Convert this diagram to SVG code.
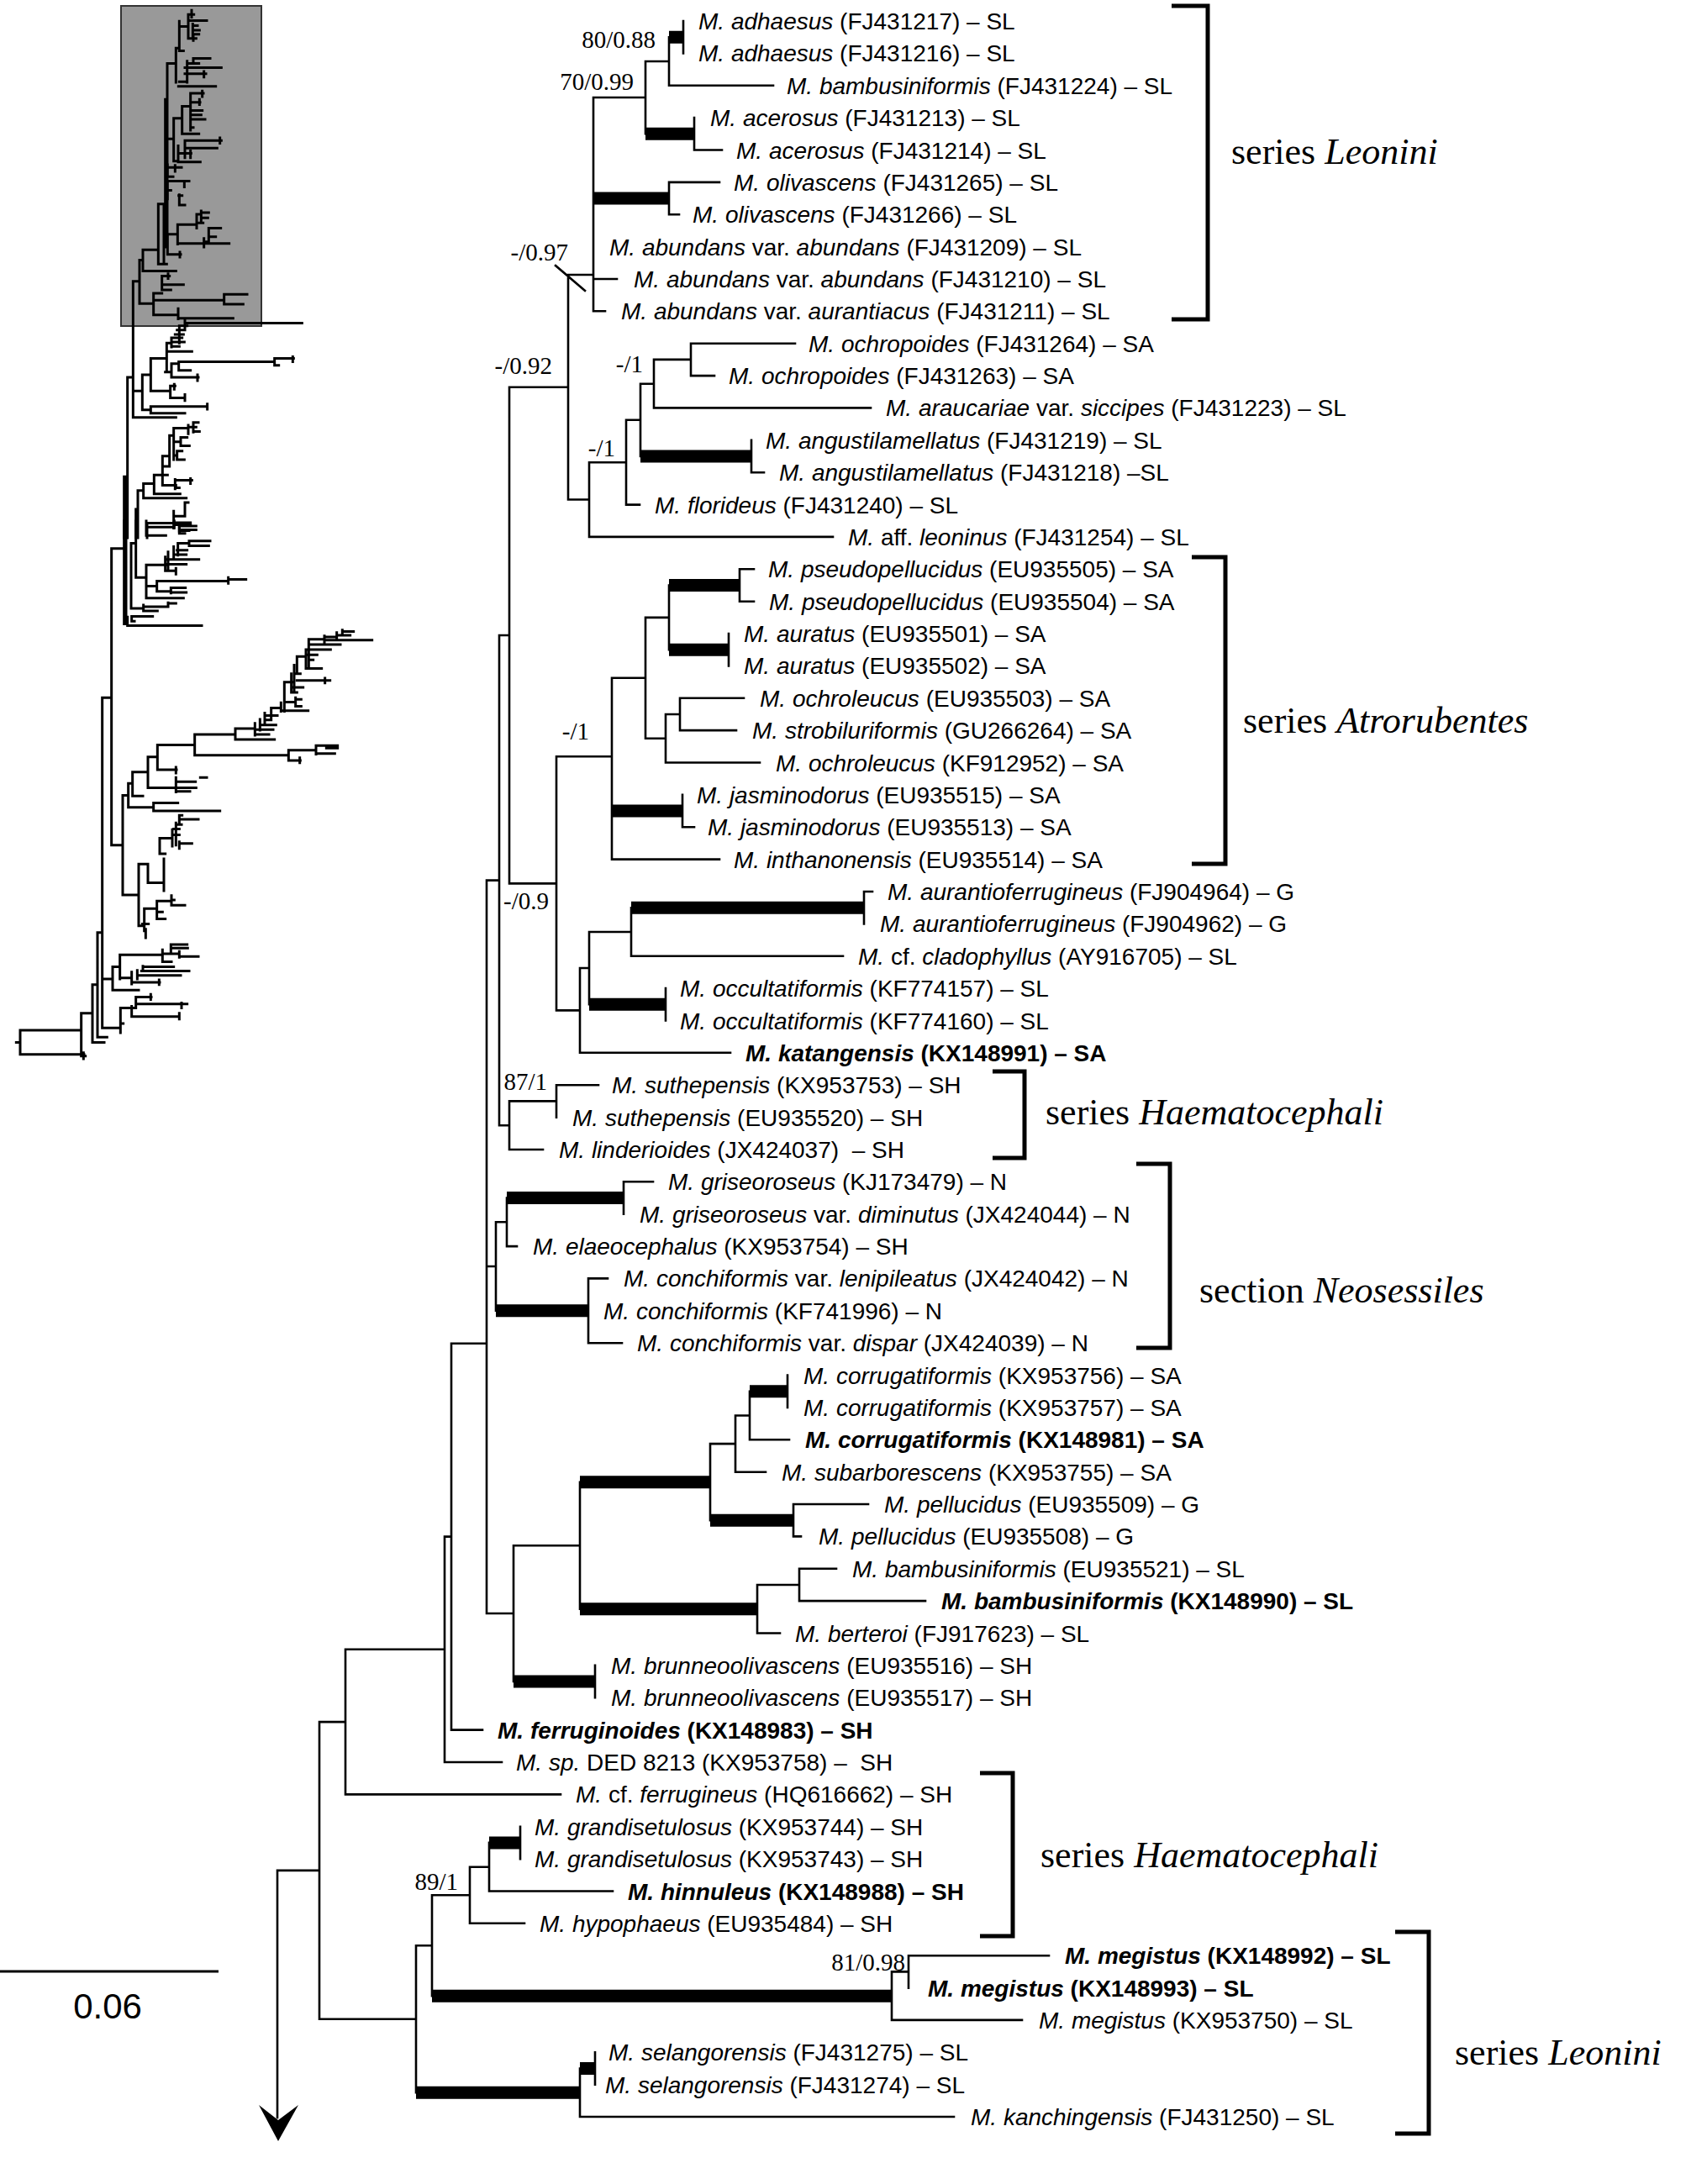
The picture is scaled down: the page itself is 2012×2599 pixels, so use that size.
<svg xmlns="http://www.w3.org/2000/svg" width="2012" height="2599" viewBox="0 0 2012 2599">
<style>
.br{fill:none;stroke:#000;stroke-width:2.6;stroke-linecap:square}
.tk{fill:none;stroke:#000;stroke-width:15;stroke-linecap:butt}
.ins{fill:none;stroke:#000;stroke-width:3;stroke-linecap:square;vector-effect:non-scaling-stroke}
.brk{fill:none;stroke:#000;stroke-width:5;stroke-linejoin:miter}
.lf{font-family:"Liberation Sans",Arial,sans-serif;font-size:28px;fill:#000}
.i{font-style:italic}
.b{font-weight:bold}
.sp{font-family:"Liberation Serif","Times New Roman",serif;font-size:29px;fill:#000;text-anchor:end}
.gl{font-family:"Liberation Serif","Times New Roman",serif;font-size:44px;fill:#000}
.sc{font-family:"Liberation Sans",Arial,sans-serif;font-size:42px;fill:#000;text-anchor:middle}
</style>
<rect width="2012" height="2599" fill="#fff"/>

<g id="overview-tree">
<rect x="144" y="7" width="167" height="381" fill="#999" stroke="#333" stroke-width="2"/>
<path class="ins" transform="matrix(0.33333 0 0 0.40816 0 0)" d="M684 30V50 M672 42H692 M672 42V112 M672 60H738 M688 70V105 M688 75H705 M688 88H712 M688 100H710 M672 112H700 M690 106V118 M640 62V148 M640 77H672 M640 148H655 M628 140V240 M628 140H640 M668 178V240 M690 170V185 M690 170H750 M668 185H710 M660 197H790 M660 215H735 M728 208V225 M640 238H668 M637 252H770 M597 185V720 M597 185H628
M680 272V380 M680 272H726 M722 265V282 M680 298H714 M712 290V305 M680 322H722 M680 335H718 M680 348H732 M680 372H690 M650 390H710 M650 310V390 M650 310H680 M620 345V470 M620 345H650 M660 410V460 M660 410H790 M785 402V418 M660 432H775 M636 425V472 M636 447H682 M680 440V460 M636 472H715 M620 470H636 M590 290V720 M590 405H620
M600 488H648 M625 482V500 M598 480V515 M598 515H618 M600 528H675 M658 528V545 M598 528V580 M598 555H610 M638 570H650 M640 568V598 M640 598H660 M585 595V770 M634 655V712 M634 655H700 M702 625V665 M702 625H718 M718 615V650 M718 620H745 M718 635H742 M702 650H725 M745 665H788 M745 690H770 M745 665V705 M728 705H745 M728 695V720 M634 710H818 M598 683V742 M598 683H634 M598 742H645 M642 735V750 M565 770H595 M565 595V770 M565 595H585 M510 790H628 M510 728V790 M510 728H565
M578 805V845 M578 805H605 M600 798V812 M578 830H655 M578 845H610 M548 855V918 M548 855H578 M800 858H882 M800 887H868 M800 860V887 M555 875H800 M548 918H635 M636 900V930 M636 928H832 M498 758V885 M498 758H510 M498 885H548 M475 820V1217 M475 820H498
M660 942H1078 M660 935V955 M640 950V1000 M640 950H668 M632 962H660 M625 975H655 M620 985H650 M612 997H658 M612 1010H640 M612 985V1012 M595 1025H685 M595 1000V1085 M595 1000H612 M638 1055H980 M638 1055V1080 M980 1045V1065 M980 1045H1048 M1045 1040V1055 M980 1065H995 M612 1060V1100 M612 1060H638 M638 1080H680 M612 1100H708 M705 1093V1110 M590 1085H612 M538 1045V1140 M538 1045H595 M608 1125V1160 M608 1125H625 M622 1120V1135 M608 1160H660 M660 1150V1168 M538 1140H608 M508 1093V1195 M508 1093H538 M538 1185H740 M740 1178V1193 M538 1205H660 M538 1185V1205 M508 1195H538 M475 1140H508 M475 1217H628 M455 1100V1568 M455 1100H475
M690 1232V1260 M690 1232H708 M672 1245H700 M690 1258H712 M672 1240V1265 M620 1248V1340 M620 1248H672 M645 1275V1300 M645 1275H668 M645 1300H676 M620 1288H645 M632 1315V1340 M632 1315H650 M632 1340H658 M620 1328H632 M605 1270V1360 M605 1270H620 M585 1360H600 M580 1330V1415 M580 1330H605 M580 1385H598 M580 1415H628 M625 1398V1425 M625 1400H685 M680 1395V1410 M625 1422H640 M550 1385V1440 M550 1385H580 M550 1440H643 M512 1410V1452 M512 1410H550 M512 1452H665 M492 1430V1568 M492 1430H512 M660 1465V1505 M660 1465H672 M620 1490V1540 M620 1505H660 M620 1530H680 M640 1525V1555 M640 1545H700 M640 1555H660 M525 1525V1568 M525 1525H620 M485 1485V1568 M443 1390V1568 M450 1390V1568 M443 1390H455"/>
<path class="ins" transform="matrix(0.33333 0 0 0.40816 0 620)" d="M443 0V300 M450 0V300 M398 80H443 M398 80V945 M485 0V165 M468 65V255 M468 65H485 M622 0V20 M620 5H680 M640 10V30 M640 15H700 M640 28H675 M522 0V42 M522 18H620 M522 42H592 M675 58V72 M675 58H750 M675 72H745 M635 65H675 M635 65V100 M632 85H668 M620 98H665 M620 75V110 M598 112H710 M600 90V145 M590 126H665 M590 145H625 M628 138V155 M590 105V145 M522 128H598 M522 128V225 M815 165V182 M815 170H878 M560 175H815 M560 175V205 M610 195H662 M610 208H665 M610 195V210 M560 205H610 M522 190H560 M522 225H655 M485 165H522 M600 240H628 M600 238V250 M512 250H600 M512 262H562 M512 245V262 M468 255H512 M470 278H545 M470 278V292 M470 292H480 M455 305H720 M455 280V305 M445 290H455
M1222 322H1262 M1202 333H1250 M1222 318V333 M1202 325V345 M1158 347H1328 M1158 335V360 M1158 338H1202 M1102 360H1215 M1102 345V430 M1102 345H1158 M1092 375H1180 M1092 390H1132 M1092 375V430 M1102 405H1118 M1092 430H1148 M1060 395V445 M1060 395H1092 M1050 445H1072 M1050 420V500 M1060 465H1178 M1160 458V472 M1040 485H1082 M1040 445V500 M1040 500H1060 M1015 470V555 M1015 470H1050 M1055 520H1075 M1055 540H1075 M1055 515V540 M1015 528H1055 M1003 553H1100 M1003 530V555 M968 545V580 M968 545H1003 M945 567H990 M945 560V595 M945 580H968 M928 595H985 M928 578V610 M910 608H975 M910 590V625 M910 622H960 M840 637H980 M840 605V637 M840 605H910 M695 622H840 M695 622V683 M695 683H1030 M1030 668V698 M1030 668H1128 M1128 655V680 M1128 655H1205 M1165 662H1205 M1128 678H1195 M1030 698H1072 M1070 690V705 M562 653H695 M562 653V725 M562 725H630 M628 718V735 M528 688V778 M528 688H562 M528 778H700 M628 760H698 M628 748V790 M715 748H738 M628 788H678 M473 732V802 M473 732H528 M473 802H510 M458 765V835 M458 765H473 M548 822H635 M548 822V845 M548 845H785 M458 835H548 M438 800V1090 M438 800H458
M640 858H650 M640 858V885 M640 870H708 M630 885H648 M628 880V945 M620 898H640 M620 915H640 M640 940H685 M640 935V955 M615 900V948 M570 925H615 M570 925V970 M570 970H590 M528 1000V1055 M495 1000H528 M528 1055H585 M585 985V1078 M438 1090H495 M495 1000V1180 M612 1105H622 M612 1092V1120 M612 1120H660 M560 1108V1160 M560 1108H612 M565 1140H580 M560 1160H590 M515 1130V1195 M515 1130H560 M508 1175H530 M520 1190V1215 M495 1180H515 M398 945H438
M365 515V1478 M365 515H398 M610 1245H670 M610 1235V1262 M610 1235H668 M640 1270H708 M640 1255V1272 M580 1262H640 M580 1250V1285 M580 1285H612 M428 1265H580 M510 1300H620 M505 1312H675 M490 1325H645 M510 1298V1310 M490 1310V1335 M470 1345H570 M568 1338V1352 M470 1315V1350 M428 1332H470 M428 1265V1335 M402 1300H428 M402 1368H495 M402 1300V1368 M370 1335H402 M485 1388H540 M538 1380V1395 M485 1388V1415 M485 1408H668 M648 1405V1420 M470 1420H485 M470 1445H640 M640 1435V1452 M470 1415V1445 M430 1420H470 M430 1420V1492 M430 1465H440 M365 1478H430 M348 1200V1505 M348 1200H365 M348 1505H382 M330 1352V1520 M330 1352H348 M330 1520H372 M290 1435V1560 M290 1435H330 M290 1560H305 M298 1550V1568 M72 1485V1555 M72 1485H290 M72 1555H300 M58 1520H72"/>
</g>

<g id="scale-bar">
<path d="M0 2346H260" stroke="#000" stroke-width="3" fill="none"/>
<text class="sc" x="128" y="2402">0.06</text>
</g>

<g id="connectors">
<path class="br" d="M813 25V63.4 M796 44.2V101.7 M796 101.7H920 M768 73H796 M768 73V159.3 M826 140.1V178.5 M826 178.5H859 M706 116H768 M796 216.9V255.2 M796 216.9H856 M796 255.2H808 M706 116V370.3 M706 332H734 M706 370.3H720 M676 327H706 M676 327V594.5 M606 460.8H676 M676 594.5H701 M701 550.2V638.9 M701 638.9H991 M701 550.2H745 M745 499.8V600.6 M745 600.6H761 M745 499.8H762 M762 456.7V543 M894 523.8V562.2 M894 562.2H909 M762 456.7H778 M778 427.9V485.4 M778 485.4H1036 M778 427.9H822 M822 408.7V447.1 M822 408.7H946 M822 447.1H850
M606 460.8V1051.4 M594 756H606 M606 1051.4H662 M662 900.3V1202.4 M662 900.3H728 M728 806.8V1022.6 M728 806.8H768 M768 734.9V878.7 M768 734.9H796 M796 696.5V773.2 M880 677.3V715.7 M880 677.3H897 M880 715.7H897 M867 754V792.4 M768 878.7H792 M792 850V907.5 M792 907.5H904 M792 850H809 M809 830.8V869.1 M809 830.8H885 M809 869.1H876 M812 945.9V984.3 M812 984.3H826 M728 1022.6H856 M662 1202.4H690 M690 1152V1252.8 M690 1252.8H869 M690 1152H701 M701 1109V1195.3 M792 1176.1V1214.5 M701 1109H751 M751 1080.2V1137.7 M751 1137.7H1003 M1028 1061V1099.4 M1028 1061H1038
M594 756V1339.2 M579 1047.6H594 M594 1339.2H606 M606 1310.4V1368 M606 1368H646 M606 1310.4H662 M662 1291.2V1329.6 M662 1291.2H712
M579 1047.6V1920 M579 1507H590 M590 1454.3V1559.8 M590 1454.3H603 M603 1425.5V1483.1 M603 1483.1H615 M742 1406.3V1444.7 M742 1406.3H777 M700 1521.4V1598.2 M700 1521.4H723 M700 1598.2H740
M579 1920H611 M611 1839.2V2001 M611 1839.2H690 M708 1981.9V2020.2 M690 1763.7V1914.7 M845 1718.1V1809.2 M845 1718.1H875 M944 1790V1828.4 M944 1790H1033 M944 1828.4H953 M875 1684.5V1751.7 M875 1751.7H911 M875 1684.5H892 M892 1655.7V1713.3 M892 1713.3H939 M937 1636.5V1674.9 M901 1886V1943.5 M901 1943.5H928 M901 1886H951 M951 1866.8V1905.1 M951 1866.8H995 M951 1905.1H1101
M537 1598.7V2058.6 M537 1598.7H579 M537 2058.6H574 M529 1828.6V2097 M529 1828.6H537 M529 2097H597 M411 1962.8V2135.4 M411 1962.8H529 M411 2135.4H667 M380 2049.1V2402.7 M380 2049.1H411 M380 2402.7H495 M330 2225.9H380 M330 2225.9V2520 M495 2315.2V2490.3 M495 2315.2H514 M514 2255.3V2375.2 M514 2255.3H559 M559 2221.7V2288.8 M559 2288.8H624 M559 2221.7H582 M582 2192.9V2250.5 M582 2250.5H729 M619 2173.7V2212.1 M1061 2346.4V2403.9 M1061 2346.4H1081 M1061 2403.9H1216 M1081 2327.2V2365.6 M1081 2327.2H1248 M690 2461.5V2519 M690 2519H1135 M708 2442.3V2480.7
M661 316L696 346"/>
<path class="tk" d="M796 44.2H813 M768 159.3H826 M706 236H796 M762 543H894 M796 696.5H880 M796 773.2H867 M728 965.1H812 M701 1195.3H792 M751 1080.2H1028 M603 1425.5H742 M590 1559.8H700 M611 2001H708 M690 1763.7H845 M690 1914.7H901 M845 1809.2H944 M892 1655.7H937 M582 2192.9H619 M514 2375.2H1061 M495 2490.3H690 M690 2461.5H708"/>
<polygon points="308,2505 331,2523 355,2505 331,2548" fill="#000"/>
</g>

<g id="support-values">
<text class="sp" x="780" y="57">80/0.88</text>
<text class="sp" x="754" y="107">70/0.99</text>
<text class="sp" x="676" y="310">-/0.97</text>
<text class="sp" x="657" y="445">-/0.92</text>
<text class="sp" x="765" y="443">-/1</text>
<text class="sp" x="732" y="543">-/1</text>
<text class="sp" x="701" y="880">-/1</text>
<text class="sp" x="653" y="1082">-/0.9</text>
<text class="sp" x="651" y="1297">87/1</text>
<text class="sp" x="545" y="2249">89/1</text>
<text class="sp" x="1077" y="2345">81/0.98</text>
</g>

<g id="leaves" class="lf">
<g id="leaf01"><text x="831" y="35"><tspan class="i">M. adhaesus</tspan> (FJ431217) – SL</text></g>
<g id="leaf02"><text x="831" y="73"><tspan class="i">M. adhaesus</tspan> (FJ431216) – SL</text></g>
<g id="leaf03"><text x="936" y="112"><tspan class="i">M. bambusiniformis</tspan> (FJ431224) – SL</text></g>
<g id="leaf04"><text x="845" y="150"><tspan class="i">M. acerosus</tspan> (FJ431213) – SL</text></g>
<g id="leaf05"><text x="876" y="189"><tspan class="i">M. acerosus</tspan> (FJ431214) – SL</text></g>
<g id="leaf06"><text x="873" y="227"><tspan class="i">M. olivascens</tspan> (FJ431265) – SL</text></g>
<g id="leaf07"><text x="824" y="265"><tspan class="i">M. olivascens</tspan> (FJ431266) – SL</text></g>
<g id="leaf08"><text x="725" y="304"><tspan class="i">M. abundans</tspan> var. <tspan class="i">abundans</tspan> (FJ431209) – SL</text></g>
<g id="leaf09"><text x="754" y="342"><tspan class="i">M. abundans</tspan> var. <tspan class="i">abundans</tspan> (FJ431210) – SL</text></g>
<g id="leaf10"><text x="739" y="380"><tspan class="i">M. abundans</tspan> var. <tspan class="i">aurantiacus</tspan> (FJ431211) – SL</text></g>
<g id="leaf11"><text x="962" y="419"><tspan class="i">M. ochropoides</tspan> (FJ431264) – SA</text></g>
<g id="leaf12"><text x="867" y="457"><tspan class="i">M. ochropoides</tspan> (FJ431263) – SA</text></g>
<g id="leaf13"><text x="1054" y="495"><tspan class="i">M. araucariae</tspan> var. <tspan class="i">siccipes</tspan> (FJ431223) – SL</text></g>
<g id="leaf14"><text x="911" y="534"><tspan class="i">M. angustilamellatus</tspan> (FJ431219) – SL</text></g>
<g id="leaf15"><text x="927" y="572"><tspan class="i">M. angustilamellatus</tspan> (FJ431218) –SL</text></g>
<g id="leaf16"><text x="779" y="611"><tspan class="i">M. florideus</tspan> (FJ431240) – SL</text></g>
<g id="leaf17"><text x="1009" y="649"><tspan class="i">M.</tspan> aff. <tspan class="i">leoninus</tspan> (FJ431254) – SL</text></g>
<g id="leaf18"><text x="914" y="687"><tspan class="i">M. pseudopellucidus</tspan> (EU935505) – SA</text></g>
<g id="leaf19"><text x="915" y="726"><tspan class="i">M. pseudopellucidus</tspan> (EU935504) – SA</text></g>
<g id="leaf20"><text x="885" y="764"><tspan class="i">M. auratus</tspan> (EU935501) – SA</text></g>
<g id="leaf21"><text x="885" y="802"><tspan class="i">M. auratus</tspan> (EU935502) – SA</text></g>
<g id="leaf22"><text x="904" y="841"><tspan class="i">M. ochroleucus</tspan> (EU935503) – SA</text></g>
<g id="leaf23"><text x="895" y="879"><tspan class="i">M. strobiluriformis</tspan> (GU266264) – SA</text></g>
<g id="leaf24"><text x="923" y="918"><tspan class="i">M. ochroleucus</tspan> (KF912952) – SA</text></g>
<g id="leaf25"><text x="829" y="956"><tspan class="i">M. jasminodorus</tspan> (EU935515) – SA</text></g>
<g id="leaf26"><text x="842" y="994"><tspan class="i">M. jasminodorus</tspan> (EU935513) – SA</text></g>
<g id="leaf27"><text x="873" y="1033"><tspan class="i">M. inthanonensis</tspan> (EU935514) – SA</text></g>
<g id="leaf28"><text x="1056" y="1071"><tspan class="i">M. aurantioferrugineus</tspan> (FJ904964) – G</text></g>
<g id="leaf29"><text x="1047" y="1109"><tspan class="i">M. aurantioferrugineus</tspan> (FJ904962) – G</text></g>
<g id="leaf30"><text x="1021" y="1148"><tspan class="i">M.</tspan> cf. <tspan class="i">cladophyllus</tspan> (AY916705) – SL</text></g>
<g id="leaf31"><text x="809" y="1186"><tspan class="i">M. occultatiformis</tspan> (KF774157) – SL</text></g>
<g id="leaf32"><text x="809" y="1225"><tspan class="i">M. occultatiformis</tspan> (KF774160) – SL</text></g>
<g id="leaf33"><text class="b" x="887" y="1263"><tspan class="i">M. katangensis</tspan> (KX148991) – SA</text></g>
<g id="leaf34"><text x="728" y="1301"><tspan class="i">M. suthepensis</tspan> (KX953753) – SH</text></g>
<g id="leaf35"><text x="681" y="1340"><tspan class="i">M. suthepensis</tspan> (EU935520) – SH</text></g>
<g id="leaf36"><text x="665" y="1378" xml:space="preserve"><tspan class="i">M. linderioides</tspan> (JX424037)  – SH</text></g>
<g id="leaf37"><text x="795" y="1416"><tspan class="i">M. griseoroseus</tspan> (KJ173479) – N</text></g>
<g id="leaf38"><text x="761" y="1455"><tspan class="i">M. griseoroseus</tspan> var. <tspan class="i">diminutus</tspan> (JX424044) – N</text></g>
<g id="leaf39"><text x="634" y="1493"><tspan class="i">M. elaeocephalus</tspan> (KX953754) – SH</text></g>
<g id="leaf40"><text x="742" y="1531"><tspan class="i">M. conchiformis</tspan> var. <tspan class="i">lenipileatus</tspan> (JX424042) – N</text></g>
<g id="leaf41"><text x="718" y="1570"><tspan class="i">M. conchiformis</tspan> (KF741996) – N</text></g>
<g id="leaf42"><text x="758" y="1608"><tspan class="i">M. conchiformis</tspan> var. <tspan class="i">dispar</tspan> (JX424039) – N</text></g>
<g id="leaf43"><text x="956" y="1647"><tspan class="i">M. corrugatiformis</tspan> (KX953756) – SA</text></g>
<g id="leaf44"><text x="956" y="1685"><tspan class="i">M. corrugatiformis</tspan> (KX953757) – SA</text></g>
<g id="leaf45"><text class="b" x="958" y="1723"><tspan class="i">M. corrugatiformis</tspan> (KX148981) – SA</text></g>
<g id="leaf46"><text x="930" y="1762"><tspan class="i">M. subarborescens</tspan> (KX953755) – SA</text></g>
<g id="leaf47"><text x="1052" y="1800"><tspan class="i">M. pellucidus</tspan> (EU935509) – G</text></g>
<g id="leaf48"><text x="974" y="1838"><tspan class="i">M. pellucidus</tspan> (EU935508) – G</text></g>
<g id="leaf49"><text x="1014" y="1877"><tspan class="i">M. bambusiniformis</tspan> (EU935521) – SL</text></g>
<g id="leaf50"><text class="b" x="1120" y="1915"><tspan class="i">M. bambusiniformis</tspan> (KX148990) – SL</text></g>
<g id="leaf51"><text x="946" y="1954"><tspan class="i">M. berteroi</tspan> (FJ917623) – SL</text></g>
<g id="leaf52"><text x="727" y="1992"><tspan class="i">M. brunneoolivascens</tspan> (EU935516) – SH</text></g>
<g id="leaf53"><text x="727" y="2030"><tspan class="i">M. brunneoolivascens</tspan> (EU935517) – SH</text></g>
<g id="leaf54"><text class="b" x="592" y="2069"><tspan class="i">M. ferruginoides</tspan> (KX148983) – SH</text></g>
<g id="leaf55"><text x="614" y="2107" xml:space="preserve"><tspan class="i">M. sp.</tspan> DED 8213 (KX953758) –  SH</text></g>
<g id="leaf56"><text x="685" y="2145"><tspan class="i">M.</tspan> cf. <tspan class="i">ferrugineus</tspan> (HQ616662) – SH</text></g>
<g id="leaf57"><text x="636" y="2184"><tspan class="i">M. grandisetulosus</tspan> (KX953744) – SH</text></g>
<g id="leaf58"><text x="636" y="2222"><tspan class="i">M. grandisetulosus</tspan> (KX953743) – SH</text></g>
<g id="leaf59"><text class="b" x="747" y="2261"><tspan class="i">M. hinnuleus</tspan> (KX148988) – SH</text></g>
<g id="leaf60"><text x="642" y="2299"><tspan class="i">M. hypophaeus</tspan> (EU935484) – SH</text></g>
<g id="leaf61"><text class="b" x="1267" y="2337"><tspan class="i">M. megistus</tspan> (KX148992) – SL</text></g>
<g id="leaf62"><text class="b" x="1104" y="2376"><tspan class="i">M. megistus</tspan> (KX148993) – SL</text></g>
<g id="leaf63"><text x="1236" y="2414"><tspan class="i">M. megistus</tspan> (KX953750) – SL</text></g>
<g id="leaf64"><text x="724" y="2452"><tspan class="i">M. selangorensis</tspan> (FJ431275) – SL</text></g>
<g id="leaf65"><text x="720" y="2491"><tspan class="i">M. selangorensis</tspan> (FJ431274) – SL</text></g>
<g id="leaf66"><text x="1155" y="2529"><tspan class="i">M. kanchingensis</tspan> (FJ431250) – SL</text></g>
</g>

<g id="groups">
<g id="grp-leonini-1"><path class="brk" d="M1394 7H1437V380H1394"/><text class="gl" x="1465" y="195">series <tspan class="i">Leonini</tspan></text></g>
<g id="grp-atrorubentes"><path class="brk" d="M1418 663H1458V1028H1418"/><text class="gl" x="1479" y="872">series <tspan class="i">Atrorubentes</tspan></text></g>
<g id="grp-haematocephali-1"><path class="brk" d="M1181 1275H1219V1378H1181"/><text class="gl" x="1244" y="1338">series <tspan class="i">Haematocephali</tspan></text></g>
<g id="grp-neosessiles"><path class="brk" d="M1352 1385H1392V1604H1352"/><text class="gl" x="1427" y="1550">section <tspan class="i">Neosessiles</tspan></text></g>
<g id="grp-haematocephali-2"><path class="brk" d="M1166 2110H1205V2304H1166"/><text class="gl" x="1238" y="2222">series <tspan class="i">Haematocephali</tspan></text></g>
<g id="grp-leonini-2"><path class="brk" d="M1660 2299H1700V2539H1660"/><text class="gl" x="1731" y="2457">series <tspan class="i">Leonini</tspan></text></g>
</g>
</svg>
